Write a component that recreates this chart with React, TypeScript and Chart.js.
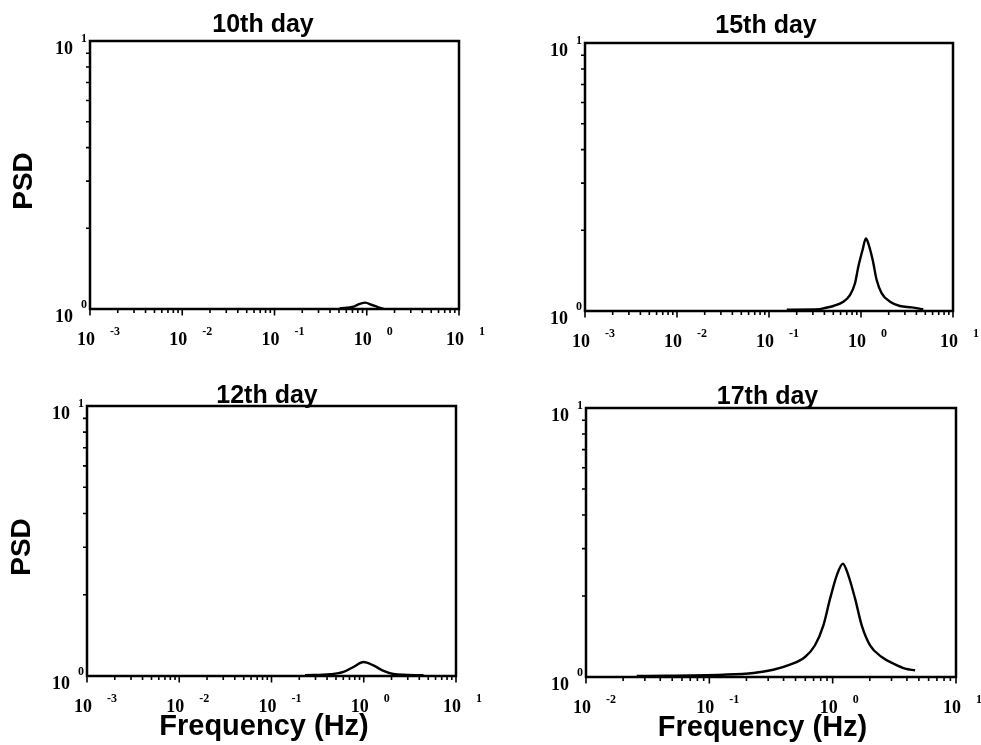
import React, { useEffect, useRef } from 'react';
import { Chart, registerables } from 'chart.js';

Chart.register(...registerables);

// ---- data ----
const FREQ_10TH = [0.51, 0.72, 0.81, 0.96, 1.14, 1.34, 1.52];
const PSD_10TH = [1.006, 1.02, 1.041, 1.056, 1.035, 1.015, 1.0];

const FREQ_15TH = [0.156, 0.358, 0.389, 0.5, 0.643, 0.758, 0.861, 0.935, 1.04, 1.13, 1.2, 1.34, 1.48, 1.68, 2.07, 2.65, 3.56, 4.75];
const PSD_15TH = [1.012, 1.015, 1.023, 1.044, 1.083, 1.147, 1.269, 1.463, 1.689, 1.867, 1.789, 1.55, 1.305, 1.164, 1.083, 1.044, 1.032, 1.015];

const FREQ_12TH = [0.231, 0.433, 0.603, 0.773, 0.993, 1.27, 1.64, 2.1, 4.44];
const PSD_12TH = [1.006, 1.015, 1.035, 1.08, 1.127, 1.095, 1.044, 1.017, 1.006];

const FREQ_17TH = [0.0258, 0.13, 0.228, 0.33, 0.451, 0.597, 0.719, 0.841, 0.953, 1.08, 1.21, 1.34, 1.52, 1.72, 2.01, 2.5, 3.11, 3.86, 4.66];
const PSD_17TH = [1.009, 1.02, 1.035, 1.064, 1.111, 1.187, 1.312, 1.556, 1.955, 2.388, 2.638, 2.388, 1.955, 1.556, 1.312, 1.187, 1.121, 1.074, 1.059];

// tick exponents (labels "10^n")
const X_DECADES_WIDE = [-3, -2, -1, 0, 1];
const X_DECADES_NARROW = [-2, -1, 0, 1];
const Y_DECADES = [0, 1];
const MINOR_MULTIPLIERS = [2, 3, 4, 5, 6, 7, 8, 9];

const TITLES = ['10th day', '15th day', '12th day', '17th day'];
const Y_LABEL = 'PSD';
const X_LABEL = 'Frequency (Hz)';

const SANS = '"Liberation Sans", Arial, Helvetica, sans-serif';
const SERIF = '"Liberation Serif", "Times New Roman", Times, serif';

function buildTicks(decades: number[]) {
  const out: { value: number; major: boolean; exp: number }[] = [];
  for (let i = 0; i < decades.length; i++) {
    const d = decades[i];
    out.push({ value: Math.pow(10, d), major: true, exp: d });
    if (i < decades.length - 1) {
      for (const m of MINOR_MULTIPLIERS) out.push({ value: m * Math.pow(10, d), major: false, exp: d });
    }
  }
  return out;
}

interface Panel {
  title: string;
  freq: number[];
  psd: number[];
  decades: number[];
  left: number;
  top: number;
  w: number;
  h: number;
  pad: { left: number; top: number; right: number; bottom: number };
  titleX: number;
  titleY: number;
  psdPos?: { x: number; y: number };
  freqPos?: { x: number; y: number };
}

const PANELS: Panel[] = [
  {
    title: TITLES[0], freq: FREQ_10TH, psd: PSD_10TH, decades: X_DECADES_WIDE,
    left: 0, top: 0, w: 490, h: 372,
    pad: { left: 90, top: 41, right: 31, bottom: 63 },
    titleX: 263, titleY: 32, psdPos: { x: 24, y: 181 },
  },
  {
    title: TITLES[1], freq: FREQ_15TH, psd: PSD_15TH, decades: X_DECADES_WIDE,
    left: 490, top: 0, w: 491, h: 372,
    pad: { left: 95, top: 43, right: 28, bottom: 61 },
    titleX: 276, titleY: 32.5,
  },
  {
    title: TITLES[2], freq: FREQ_12TH, psd: PSD_12TH, decades: X_DECADES_WIDE,
    left: 0, top: 372, w: 490, h: 373,
    pad: { left: 87, top: 34, right: 34, bottom: 69 },
    titleX: 267, titleY: 30.5, psdPos: { x: 22, y: 175 }, freqPos: { x: 264, y: 363 },
  },
  {
    title: TITLES[3], freq: FREQ_17TH, psd: PSD_17TH, decades: X_DECADES_NARROW,
    left: 490, top: 372, w: 491, h: 373,
    pad: { left: 96, top: 36, right: 25, bottom: 68 },
    titleX: 277.5, titleY: 31.5, freqPos: { x: 272.5, y: 364 },
  },
];

function makeDecor(p: Panel) {
  return {
    id: 'decor',
    afterDatasetsDraw(chart: any) {
      const { ctx, chartArea: a } = chart;
      const xs = chart.scales.x;
      const ys = chart.scales.y;
      ctx.save();
      ctx.strokeStyle = '#000';
      ctx.fillStyle = '#000';
      // frame
      ctx.lineWidth = 2.5;
      ctx.strokeRect(a.left, a.top, a.right - a.left, a.bottom - a.top);
      // ticks
      ctx.lineWidth = 1.6;
      ctx.beginPath();
      for (const t of xs.ticks) {
        const px = xs.getPixelForValue(t.value);
        const len = t.major ? 6.5 : 4;
        ctx.moveTo(px, a.bottom);
        ctx.lineTo(px, a.bottom + len);
      }
      for (const t of ys.ticks) {
        if (t.major) continue;
        const py = ys.getPixelForValue(t.value);
        ctx.moveTo(a.left, py);
        ctx.lineTo(a.left - 4, py);
      }
      ctx.stroke();
      // x tick labels
      ctx.textBaseline = 'alphabetic';
      for (const t of xs.ticks) {
        if (!t.major) continue;
        const px = xs.getPixelForValue(t.value);
        ctx.font = `bold 18px ${SERIF}`;
        ctx.textAlign = 'center';
        ctx.fillText('10', px - 4, a.bottom + 36);
        ctx.font = `bold 12px ${SERIF}`;
        ctx.textAlign = 'left';
        ctx.fillText(String(t.exp), px + 20, a.bottom + 26);
      }
      // y tick labels
      for (const t of ys.ticks) {
        if (!t.major) continue;
        const py = ys.getPixelForValue(t.value);
        const isTop = Math.abs(py - a.top) < 2;
        ctx.font = `bold 18px ${SERIF}`;
        ctx.textAlign = 'right';
        ctx.fillText('10', a.left - 17, isTop ? py + 12.5 : py + 13);
        ctx.font = `bold 12px ${SERIF}`;
        ctx.fillText(String(t.exp), a.left - 3, isTop ? py + 1 : py - 1);
      }
      // title
      ctx.font = `bold 25px ${SANS}`;
      ctx.textAlign = 'center';
      ctx.fillText(p.title, p.titleX, p.titleY);
      // axis titles
      if (p.psdPos) {
        ctx.save();
        ctx.translate(p.psdPos.x, p.psdPos.y);
        ctx.rotate(-Math.PI / 2);
        ctx.font = `bold 28px ${SANS}`;
        ctx.textAlign = 'center';
        ctx.textBaseline = 'middle';
        ctx.fillText(Y_LABEL, 0, 0);
        ctx.restore();
      }
      if (p.freqPos) {
        ctx.font = `bold 29px ${SANS}`;
        ctx.textAlign = 'center';
        ctx.textBaseline = 'alphabetic';
        ctx.fillText(X_LABEL, p.freqPos.x, p.freqPos.y);
      }
      ctx.restore();
    },
  };
}

function PanelChart({ p }: { p: Panel }) {
  const ref = useRef<HTMLCanvasElement | null>(null);
  useEffect(() => {
    if (!ref.current) return;
    const xTicks = buildTicks(p.decades);
    const yTicks = buildTicks(Y_DECADES);
    const chart = new Chart(ref.current, {
      type: 'line',
      data: {
        datasets: [
          {
            data: p.freq.map((f, i) => ({ x: f, y: p.psd[i] })),
            borderColor: '#000',
            borderWidth: 2.4,
            pointRadius: 0,
            fill: false,
            cubicInterpolationMode: 'monotone',
          },
        ],
      },
      options: {
        animation: false,
        responsive: false,
        devicePixelRatio: 1,
        layout: { padding: p.pad },
        plugins: { legend: { display: false }, tooltip: { enabled: false }, title: { display: false } },
        events: [],
        scales: {
          x: {
            type: 'logarithmic',
            min: Math.pow(10, p.decades[0]),
            max: Math.pow(10, p.decades[p.decades.length - 1]),
            display: false,
            ticks: { autoSkip: false },
            afterBuildTicks: (s: any) => { s.ticks = xTicks.map((t) => ({ ...t })); },
          },
          y: {
            type: 'logarithmic',
            min: 1,
            max: 10,
            display: false,
            ticks: { autoSkip: false },
            afterBuildTicks: (s: any) => { s.ticks = yTicks.map((t) => ({ ...t })); },
          },
        },
      } as any,
      plugins: [makeDecor(p)],
    });
    return () => chart.destroy();
  }, [p]);
  return (
    <canvas
      ref={ref}
      width={p.w}
      height={p.h}
      style={{ position: 'absolute', left: p.left, top: p.top, width: p.w, height: p.h }}
    />
  );
}

export default function App() {
  return (
    <div style={{ position: 'absolute', left: 0, top: 0, width: 981, height: 745, background: '#fff' }}>
      {PANELS.map((p, i) => (
        <PanelChart key={i} p={p} />
      ))}
    </div>
  );
}
